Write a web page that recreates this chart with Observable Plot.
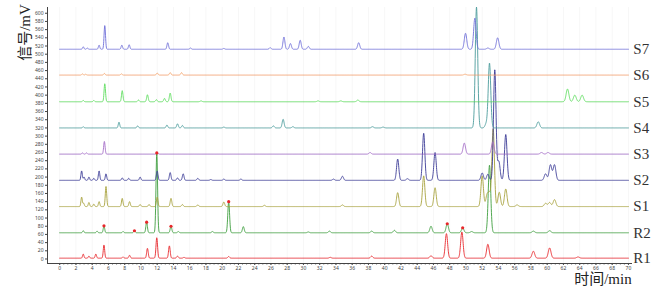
<!DOCTYPE html>
<html>
<head>
<meta charset="utf-8">
<script src="https://cdn.jsdelivr.net/npm/d3@7"></script>
<script src="https://cdn.jsdelivr.net/npm/@observablehq/plot@0.6"></script>
<style>
  html, body { margin: 0; padding: 0; background: #fff; }
  #chart svg { display: block; }
</style>
</head>
<body>
<div id="chart"></div>
<script>
// ---- Data ----
const seriesNames = ["R1", "R2", "S1", "S2", "S3", "S4", "S5", "S6", "S7"];
const baselines = [2, 64, 128, 192, 256, 320, 384, 449, 512];   // mV offset of each trace
const seriesColors = ["#e8262a", "#3e9e3e", "#a7a23c", "#3b3b96", "#a36bc6", "#4c9c9c", "#5ddc5d", "#f4a46c", "#6f6fd8"];

// peaks: [retention time (min), height (mV)]
const peaksR1 = [[2.9,10],[3.6,5],[4.45,10],[5.45,32],[7.8,3],[8.6,7],[10.8,24],[11.95,50],[13.5,30],[14.5,5],[15.3,2],[20.8,4],[33.3,2],[38.4,5],[45.7,6],[47.6,60],[49.5,64],[52.7,34],[58.3,17],[60.3,25],[63.8,3]];
const peaksR2 = [[2.9,5],[4.6,4],[5.45,17],[7.8,3],[9.2,5],[10.7,26],[11.95,195],[13.7,16],[14.6,3],[18.8,3],[20.8,76],[22.6,15],[30.6,2],[33.2,4],[38.4,4],[41.2,6],[45.7,16],[47.7,22],[49.6,12],[50.7,3],[52.9,165],[58.3,4],[60.3,5]];
const peaksS1 = [[2.7,23],[2.95,8],[3.6,10],[4.2,6],[4.85,12],[5.7,49],[7.7,20],[8.6,12],[9.9,5],[11.0,5],[12.0,23],[13.7,20],[15.1,5],[17.0,4],[20.2,11],[25.2,3],[34.8,4],[41.6,34],[44.8,75],[46.2,46],[52.0,75],[52.6,27],[52.9,30],[53.35,190],[54.1,35],[54.9,43],[56.3,4],[59.8,8],[60.3,10],[60.9,17]];
const peaksS2 = [[2.7,23],[3.0,8],[3.6,8],[4.2,5],[4.85,23],[5.7,16],[7.7,6],[8.5,5],[9.9,8],[12.0,23],[13.6,19],[14.5,6],[15.2,16],[17.0,5],[18.6,2],[20.2,3],[22.3,3],[33.7,3],[34.8,10],[41.6,52],[42.8,4],[44.8,115],[46.2,68],[52.0,18],[52.7,15],[53.55,270],[54.05,46],[54.9,112],[59.8,16],[60.4,38],[60.9,38]];
const peaksS3 = [[2.8,3],[3.3,3],[5.5,31],[12.0,4],[38.2,4],[49.8,27],[53.3,30],[59.3,4],[60.1,4]];
const peaksS4 = [[2.9,3],[7.3,14],[9.6,5],[13.2,7],[14.5,10],[15.1,6],[20.2,2],[26.3,5],[27.5,21],[28.7,3],[38.5,3],[39.8,2],[51.3,295],[52.5,10],[52.9,158],[58.9,15]];
const peaksS5 = [[2.9,3],[4.2,3],[5.55,44],[7.7,27],[9.7,4],[10.8,17],[11.9,5],[12.9,8],[13.6,21],[17.4,2],[31.8,2],[34.6,2],[36.7,4],[62.5,31],[63.4,16],[64.3,16]];
const peaksS6 = [[2.8,3],[3.2,2],[5.5,4],[7.6,3],[12.0,5],[13.6,6],[15.0,6],[49.9,2]];
const peaksS7 = [[2.9,6],[3.4,3],[4.85,10],[5.55,58],[7.65,10],[8.55,11],[13.3,16],[16.1,3],[20.2,2],[25.9,4],[27.6,30],[28.4,14],[29.6,22],[30.6,7],[36.8,16],[49.95,39],[51.1,76],[52.7,3],[53.9,28]];
const peakLists = [peaksR1, peaksR2, peaksS1, peaksS2, peaksS3, peaksS4, peaksS5, peaksS6, peaksS7];

// marked peaks on R2 (retention times)
const markedR2 = [5.45, 9.2, 10.7, 11.95, 13.7, 20.8, 47.7, 49.6];

const xTicks = d3.range(0, 71, 2);
const yTicks = d3.range(0, 601, 20);

// ---- Build trace table from the peak lists ----
const times = d3.range(0, 70.001, 0.02);
const width = tc => 0.08 + 0.0014 * tc;
const traces = [];
seriesNames.forEach((name, i) => {
  const base = baselines[i];
  const peaks = peakLists[i];
  for (const t of times) {
    let v = base;
    for (const [tc, h] of peaks) {
      const s = width(tc);
      const d = (t - tc) / s;
      if (Math.abs(d) < 8) v += h * Math.exp(-0.5 * d * d);
    }
    traces.push({series: name, t, v});
  }
});
const markers = markedR2.map(tc => {
  const p = peaksR2.find(d => d[0] === tc);
  return {t: tc, v: baselines[1] + p[1]};
});
const labels = seriesNames.map((name, i) => ({name, base: baselines[i]}));

const chart = Plot.plot({
  width: 667,
  height: 290,
  marginLeft: 47,
  marginRight: 35,
  marginTop: 7,
  marginBottom: 27,
  style: {background: "#fff", overflow: "visible"},
  x: {domain: [-1.5, 70.5]},
  y: {domain: [-11, 614]},
  color: {domain: seriesNames, range: seriesColors},
  marks: [
    Plot.ruleX(xTicks, {stroke: "#000", strokeOpacity: 0.035}),
    Plot.axisY({ticks: yTicks, tickSize: 2, tickPadding: 2, fontSize: 5, color: "#444", label: null, tickFormat: d => d}),
    Plot.axisX({ticks: xTicks, tickSize: 2, tickPadding: 1, fontSize: 5, color: "#444", label: null}),
    Plot.axisX({ticks: d3.range(0, 70.01, 0.5), tickSize: 1.5, text: null, label: null, stroke: "#666"}),
    Plot.ruleX([-1.5], {stroke: "#444", strokeWidth: 1}),
    Plot.ruleY([-11], {stroke: "#444", strokeWidth: 1}),
    Plot.line(traces, {x: "t", y: "v", z: "series", stroke: "series", strokeWidth: 0.9}),
    Plot.dot(markers, {x: "t", y: "v", r: 1.6, fill: "#e8262a", stroke: "none"}),
    Plot.text(labels, {x: () => 70.6, y: "base", text: "name", textAnchor: "start", lineAnchor: "middle",
      fontFamily: "Liberation Serif, serif", fontSize: 15, fill: "#333"}),
    Plot.text(["时间/min"], {x: () => 70.4, y: () => -11, dy: 16, text: d => d, textAnchor: "end", lineAnchor: "middle",
      fontFamily: "Liberation Serif, Noto Sans CJK SC, serif", fontSize: 15, fill: "#222"}),
    Plot.text(["信号/mV"], {x: () => -1.5, y: () => 553, dx: -22, text: d => d, rotate: -90, textAnchor: "middle", lineAnchor: "middle",
      fontFamily: "Liberation Serif, Noto Sans CJK SC, serif", fontSize: 15, fill: "#222"})
  ]
});
document.getElementById("chart").appendChild(chart);
</script>
</body>
</html>
